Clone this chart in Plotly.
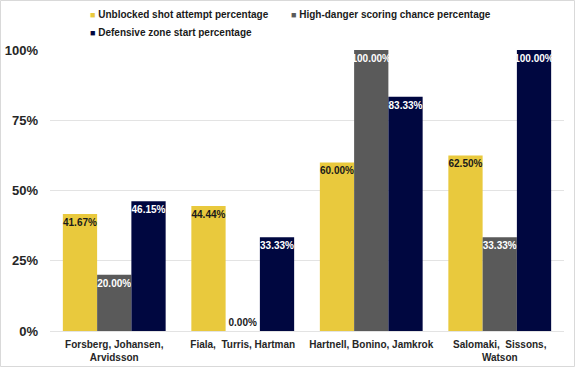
import plotly.graph_objects as go

categories = ["Forsberg, Johansen,<br>Arvidsson", "Fiala,  Turris, Hartman",
              "Hartnell, Bonino, Jamkrok", "Salomaki,  Sissons,<br>Watson"]
unblocked = [0.4167, 0.4444, 0.6000, 0.6250]
high_danger = [0.2000, 0.0000, 1.0000, 0.3333]
dz_start = [0.4615, 0.3333, 0.8333, 1.0000]
series_names = ["Unblocked shot attempt percentage",
                "High-danger scoring chance percentage",
                "Defensive zone start percentage"]
colors = ["#E9C93D", "#5A5A5A", "#000740"]
label_colors = ["#1a1a1a", "white", "white"]

FONT = "Liberation Sans, Arial, sans-serif"
W, H = 575, 367
L, R, T, B = 50, 11, 50, 36
PW, PH = W - L - R, H - T - B

legend_ids = ["legend", "legend2", "legend3"]
legend_pos = [(50, 12), (251, 12), (50, 30)]  # (x px of legend box, text centre y px)

fig = go.Figure()
for name, vals, col, lc, lid in zip(series_names, [unblocked, high_danger, dz_start],
                                    colors, label_colors, legend_ids):
    fig.add_trace(go.Bar(
        x=categories, y=vals, name=name, marker=dict(color=col, line=dict(width=0)),
        texttemplate="%{y:.2%}", textangle=0,
        textposition=["inside" if v > 0 else "outside" for v in vals],
        insidetextanchor="end", constraintext="none",
        textfont=dict(family=FONT, size=10, color=lc, weight="bold"),
        outsidetextfont=dict(family=FONT, size=10, color="#1a1a1a", weight="bold"),
        cliponaxis=False, showlegend=False, hoverinfo="skip",
    ))
    fig.add_trace(go.Scatter(
        x=[None], y=[None], mode="markers", legend=lid,
        name=f"<span style='color:{col};font-size:9px'>■</span> {name}",
        marker=dict(symbol="square", size=1, color="rgba(0,0,0,0)"),
    ))

legend_layout = {}
for lid, (lx, ly) in zip(legend_ids, legend_pos):
    legend_layout[lid] = dict(
        orientation="h", x=(lx - L) / PW, xanchor="left",
        y=1 - (ly - 12) / H, yanchor="top", yref="container",
        font=dict(family=FONT, size=10, color="#1a1a1a", weight="bold"),
        itemwidth=30, bgcolor="rgba(0,0,0,0)")

fig.update_layout(
    width=W, height=H,
    margin=dict(l=L, r=R, t=T, b=B, autoexpand=False),
    paper_bgcolor="white", plot_bgcolor="white",
    barmode="group", bargap=0.2, bargroupgap=0,
    font=dict(family=FONT, color="#262626"),
    xaxis=dict(showgrid=False, showline=False, ticks="", ticklabelstandoff=6,
               tickfont=dict(family=FONT, size=10, color="#262626", weight="bold")),
    yaxis=dict(range=[0, 1], tickvals=[0, 0.25, 0.5, 0.75, 1.0], tickformat=".0%",
               showgrid=True, gridcolor="#E3E3E3", gridwidth=1,
               zeroline=True, zerolinecolor="#E3E3E3", zerolinewidth=1,
               showline=False, ticks="", ticklabelstandoff=11,
               tickfont=dict(family=FONT, size=13, color="#262626", weight="bold")),
    shapes=[dict(type="rect", xref="paper", yref="paper",
                 x0=(-L + 0.5) / PW, x1=(PW + R - 0.5) / PW,
                 y0=(-B + 0.5) / PH, y1=(PH + T - 0.5) / PH,
                 line=dict(color="#D9D9D9", width=1), fillcolor="rgba(0,0,0,0)",
                 layer="above")],
    **legend_layout,
)

fig.write_html("out.html", config={"displayModeBar": False},
               post_script="document.body.style.margin='0';")
